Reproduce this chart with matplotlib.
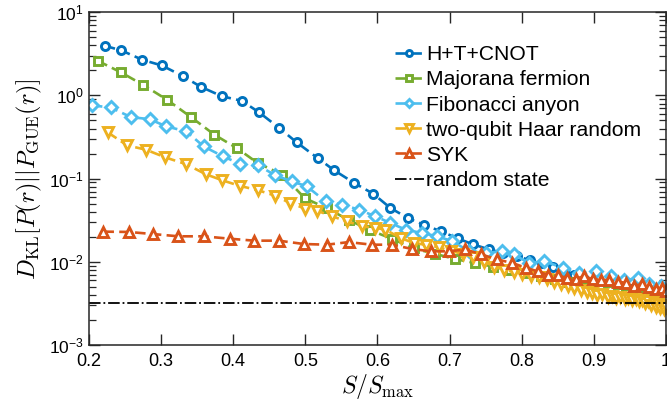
import math
import matplotlib
matplotlib.use("Agg")
import matplotlib.pyplot as plt
from matplotlib.ticker import LogLocator, FixedLocator, FuncFormatter, NullLocator

# ---- data ----
x_htc = [0.222,0.245,0.274,0.301,0.330,0.355,0.384,0.412,0.436,0.464,0.488,0.517,0.540,0.568,0.594,0.618,0.642,0.664,0.688,0.711,0.732,0.754,0.774,0.793,0.811,0.828,0.844,0.859,0.873,0.886,0.898,0.909,0.919,0.928,0.937,0.945,0.952,0.959,0.965,0.971,0.976,0.981,0.986,0.990,0.994,0.997,1.0]
y_htc = [3.95,3.47,2.68,2.29,1.71,1.27,0.98,0.86,0.625,0.405,0.273,0.177,0.126,0.0885,0.066,0.0444,0.0337,0.028,0.0233,0.0192,0.0163,0.0142,0.0128,0.0118,0.0105,0.0097,0.0088,0.0080,0.0070,0.0062,0.0055,0.0052,0.0048,0.0045,0.0040,0.0043,0.0047,0.0045,0.0042,0.0044,0.0040,0.0043,0.0041,0.0044,0.0040,0.0042,0.0041]

x_maj = [0.212,0.244,0.275,0.308,0.342,0.374,0.405,0.434,0.468,0.499,0.530,0.560,0.590,0.620,0.650,0.680,0.708,0.735,0.760,0.784,0.806,0.827,0.846,0.864,0.880,0.895,0.909,0.922,0.934,0.945,0.955,0.964,0.972,0.979,0.985,0.990,0.995,1.0]
y_maj = [2.61,1.90,1.34,0.89,0.545,0.337,0.233,0.154,0.112,0.0585,0.044,0.032,0.024,0.019,0.0145,0.0125,0.0108,0.0097,0.0088,0.0080,0.0073,0.0067,0.0062,0.0058,0.0054,0.0051,0.0048,0.0046,0.0044,0.0042,0.0041,0.0040,0.0039,0.0038,0.0039,0.0037,0.0038,0.0037]

x_fib = [0.204,0.230,0.258,0.284,0.307,0.335,0.359,0.386,0.410,0.435,0.458,0.481,0.502,0.528,0.551,0.574,0.597,0.618,0.639,0.662,0.683,0.704,0.727,0.750,0.773,0.789,0.810,0.831,0.857,0.879,0.903,0.924,0.942,0.961,0.977,0.993]
y_fib = [0.758,0.718,0.549,0.519,0.425,0.370,0.244,0.185,0.150,0.144,0.110,0.093,0.081,0.0534,0.0487,0.0425,0.0353,0.0293,0.0244,0.0222,0.0203,0.0177,0.0134,0.0128,0.0134,0.0123,0.0097,0.0102,0.0085,0.0074,0.0077,0.0067,0.0060,0.0064,0.0055,0.0051]

x_haar = [0.226,0.253,0.279,0.306,0.335,0.362,0.385,0.409,0.435,0.458,0.479,0.500,0.516,0.537,0.558,0.579,0.597,0.611,0.632,0.650,0.668,0.685,0.702,0.718,0.733,0.748,0.762,0.776,0.789,0.801,0.813,0.824,0.835,0.845,0.855,0.864,0.873,0.882,0.890,0.898,0.905,0.912,0.919,0.925,0.931,0.937,0.943,0.948,0.953,0.958,0.963,0.967,0.971,0.975,0.979,0.983,0.986,0.989,0.992,0.995,0.998,1.0]
y_haar = [0.360,0.251,0.223,0.180,0.149,0.113,0.0955,0.082,0.0724,0.0625,0.0509,0.0436,0.0413,0.0353,0.0307,0.0267,0.0257,0.0244,0.0194,0.0169,0.0160,0.0150,0.0135,0.0125,0.0115,0.0100,0.0088,0.0080,0.0076,0.0072,0.0068,0.0066,0.0063,0.0058,0.0054,0.0051,0.0048,0.0046,0.0043,0.0042,0.0040,0.0041,0.0038,0.0039,0.0037,0.0038,0.0036,0.0037,0.0035,0.0036,0.0034,0.0035,0.0032,0.0034,0.0030,0.0033,0.0029,0.0031,0.0028,0.0030,0.0027,0.0029]

x_syk = [0.220,0.255,0.289,0.324,0.359,0.395,0.429,0.463,0.498,0.530,0.560,0.592,0.620,0.648,0.674,0.699,0.722,0.744,0.766,0.787,0.806,0.822,0.836,0.850,0.863,0.875,0.886,0.899,0.910,0.921,0.933,0.944,0.956,0.967,0.977,0.986,0.994,1.0]
y_syk = [0.0231,0.0229,0.0216,0.0203,0.0203,0.0190,0.0180,0.0180,0.0164,0.0161,0.0173,0.0161,0.0161,0.0143,0.0134,0.0134,0.0141,0.0123,0.0107,0.0097,0.0085,0.0077,0.0070,0.0069,0.0064,0.0063,0.0067,0.0062,0.0061,0.0060,0.0058,0.0056,0.0052,0.0054,0.0050,0.0047,0.0048,0.0045]

y_random_state = 0.0032

labels = ["H+T+CNOT", "Majorana fermion", "Fibonacci anyon", "two-qubit Haar random", "SYK", "random state"]
x_ticks = [0.2, 0.3, 0.4, 0.5, 0.6, 0.7, 0.8, 0.9, 1.0]
x_ticklabels = ["0.2", "0.3", "0.4", "0.5", "0.6", "0.7", "0.8", "0.9", "1"]

# ---- style ----
plt.rcParams['font.family'] = ['Liberation Sans', 'DejaVu Sans']
plt.rcParams['mathtext.fontset'] = 'cm'

fig = plt.figure(figsize=(6.67, 4.07), dpi=100)
ax = fig.add_axes([0.1334, 0.152, 0.865, 0.818])

series = [
    (x_htc, y_htc, '#0072BD', 'o', 5.8),
    (x_maj, y_maj, '#77AC30', 's', 5.3),
    (x_fib, y_fib, '#4DBEEE', 'D', 5.8),
    (x_haar, y_haar, '#EDB120', 'v', 7.0),
    (x_syk, y_syk, '#D95319', '^', 7.0),
]
for (xs, ys, c, m, ms), lab in zip(series, labels):
    ax.plot(xs, ys, linestyle='--', color=c, lw=1.9, marker=m, ms=ms,
            mfc='white', mec=c, mew=2.1, label=lab, dashes=(4, 2))

ax.axhline(y_random_state, color='black', lw=1.3, linestyle='-.', label=labels[5])

ax.set_yscale('log')
ax.set_xlim(0.2, 1.0)
ax.set_ylim(1e-3, 1e1)
ax.xaxis.set_major_locator(FixedLocator(x_ticks))
ax.set_xticklabels(x_ticklabels)
ax.xaxis.set_minor_locator(NullLocator())
ax.yaxis.set_major_locator(LogLocator(base=10, numticks=10))
ax.yaxis.set_minor_locator(LogLocator(base=10, subs=range(2, 10), numticks=10))
ax.yaxis.set_major_formatter(FuncFormatter(lambda v, p: r'$\mathregular{10^{%d}}$' % round(math.log10(v))))

for s in ax.spines.values():
    s.set_linewidth(1.1)
    s.set_color('#262626')
ax.tick_params(which='both', direction='in', top=True, right=True, colors='#262626', labelcolor='black')
ax.tick_params(which='major', length=8, width=1.0)
ax.tick_params(axis='x', which='major', labelsize=13, pad=6)
ax.tick_params(axis='y', which='major', labelsize=12.5, pad=4)
ax.tick_params(which='minor', length=5, width=0.9)

ax.set_xlabel(r'$S/S_{\max}$', fontsize=17, labelpad=1)
ax.set_ylabel(r'$D_{\mathrm{KL}}[P(r)||P_{\mathrm{GUE}}(r)]$', fontsize=17.5, labelpad=3)

leg = ax.legend(loc='upper left', bbox_to_anchor=(0.515, 0.926), frameon=False, fontsize=15.2,
                handlelength=1.38, handletextpad=0.13, labelspacing=0.29, borderaxespad=0,
                markerscale=0.75)

fig.savefig('out.png', dpi=100)
